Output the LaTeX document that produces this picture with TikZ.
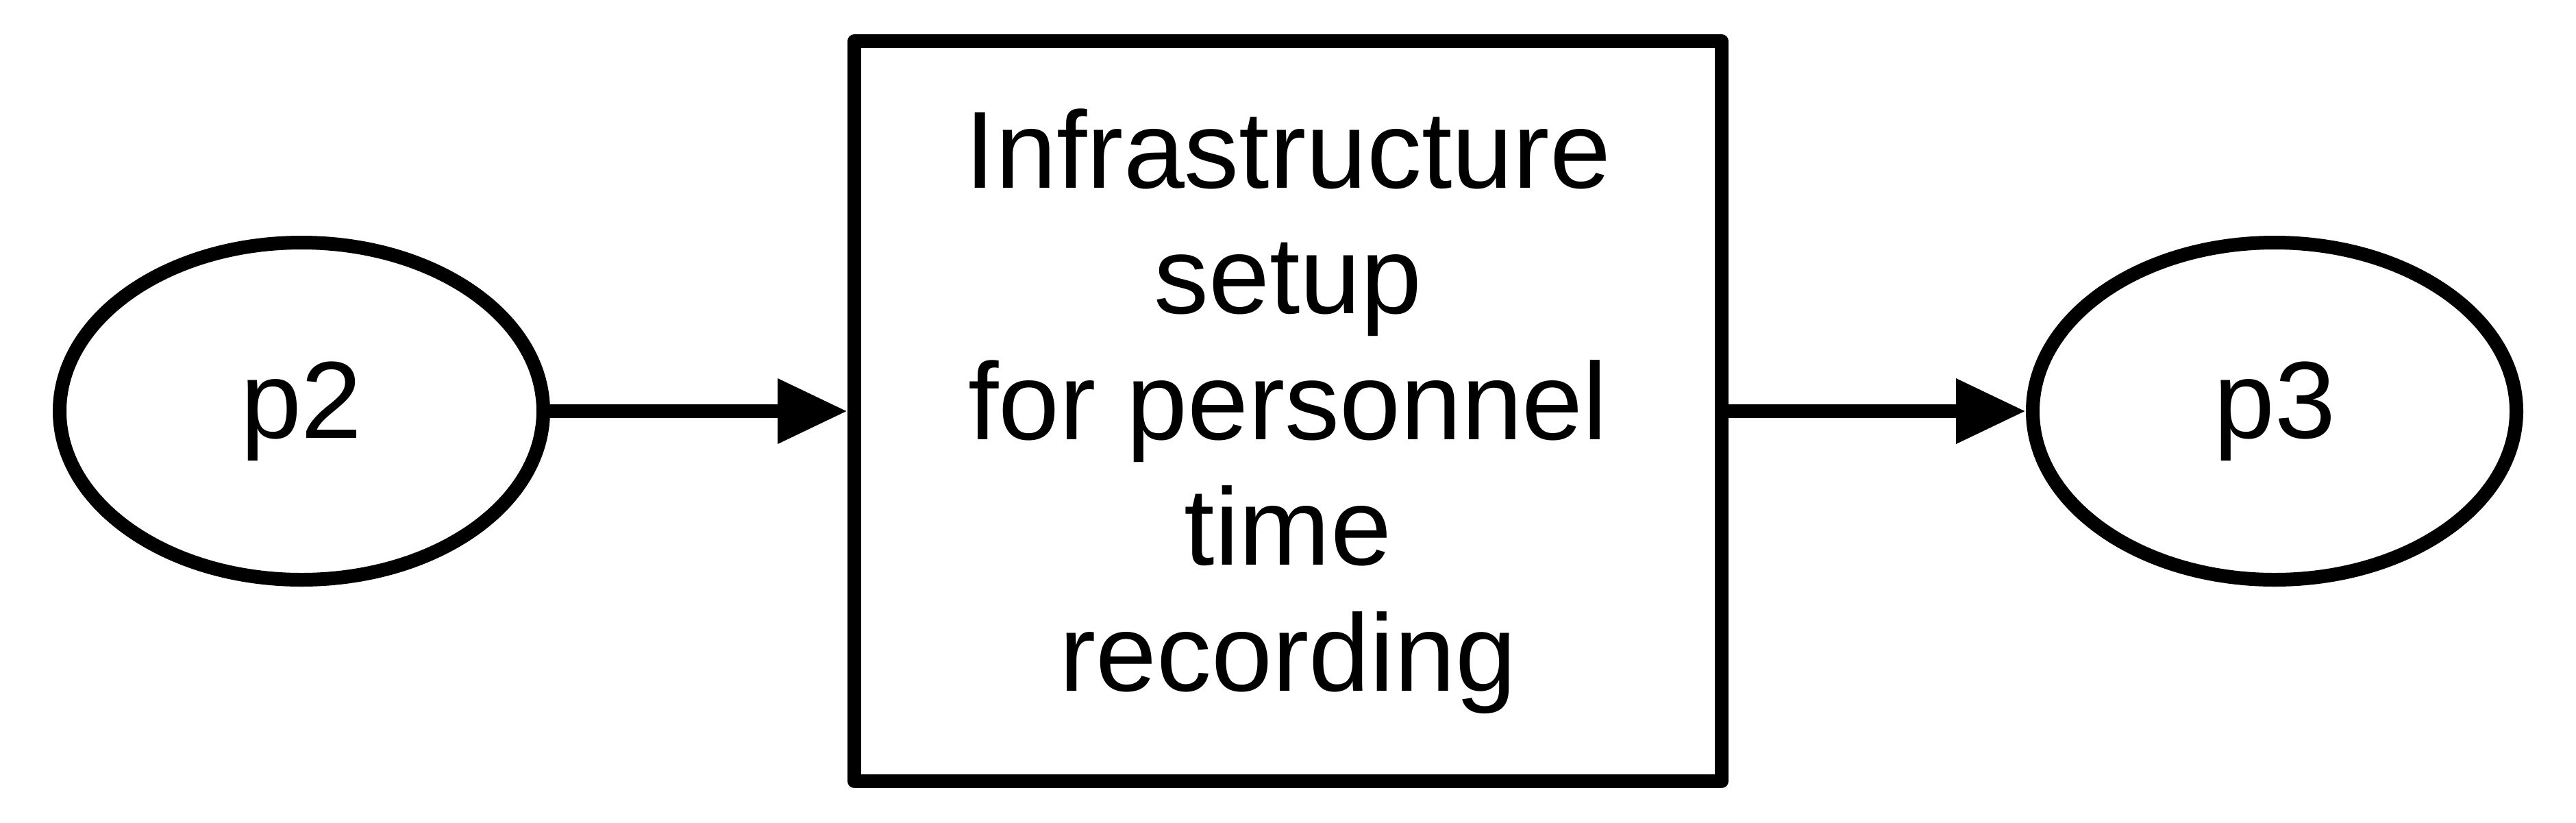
\documentclass[tikz,border=0pt]{standalone}
\usepackage{fontspec}
\setmainfont{Liberation Sans}
\usetikzlibrary{arrows.meta,shapes.geometric}
\begin{document}
\begin{tikzpicture}[
  every node/.style={font=\fontsize{45.5}{52.2}\selectfont, inner sep=0pt},
  place/.style={draw, ellipse, line width=0.2cm, minimum width=7.06cm, minimum height=4.92cm},
  trans/.style={draw, rectangle, line width=0.2cm, line join=round, minimum width=12.66cm, minimum height=10.8cm, align=center},
  arr/.style={line width=0.2cm, -{Triangle[length=1.02cm, width=0.9cm]}}
]
\useasboundingbox (0,0) rectangle (37.6,-12);
\node[place] (p2) at (4.40,-6.00) {p2};
\node[trans] (t) at (18.80,-6.00) {Infrastructure\\setup\\for personnel\\time\\recording};
\node[place] (p3) at (33.20,-6.00) {p3};
\draw[arr] (p2.east) -- (t.west);
\draw[arr] (t.east) -- (p3.west);
\end{tikzpicture}
\end{document}
